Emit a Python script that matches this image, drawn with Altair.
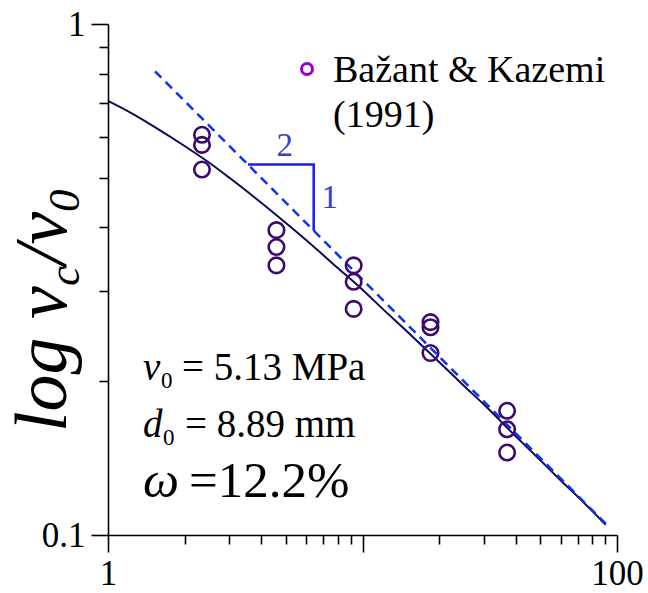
import altair as alt
import pandas as pd

# Bažant & Kazemi (1991): normalised size d/d0 vs normalised strength v_c/v0
test_size = [2.34, 2.34, 2.34, 4.59, 4.59, 4.59, 9.23, 9.23, 9.23,
             18.5, 18.5, 18.5, 37.0, 37.0, 37.0]
test_strength = [0.607, 0.580, 0.519, 0.395, 0.366, 0.337, 0.337, 0.313, 0.277,
                 0.261, 0.255, 0.227, 0.175, 0.161, 0.145]

# size-effect-law fit
fit_size = [1, 1.25, 1.5, 2, 2.5, 3, 4, 5, 6, 8, 10, 12, 15, 20, 25, 30, 40, 50,
            60, 75, 90.3]
fit_strength = [0.707, 0.667, 0.632, 0.577, 0.535, 0.500, 0.447, 0.408, 0.378,
                0.333, 0.302, 0.277, 0.250, 0.218, 0.196, 0.180, 0.156, 0.140,
                0.128, 0.115, 0.1047]

# LEFM asymptote (slope -1/2)
asym_size = [1.53, 90.3]
asym_strength = [0.808, 0.1052]

# slope triangle
tri_size = [3.55, 6.43, 6.43]
tri_strength = [0.531, 0.531, 0.394]

x_ticks = [1, 2, 3, 4, 5, 6, 7, 8, 9, 10, 20, 30, 40, 50, 60, 70, 80, 90, 100]
y_ticks = [0.1, 0.2, 0.3, 0.4, 0.5, 0.6, 0.7, 0.8, 0.9, 1]

LEFT, TOP = 108, 24
W, H = 509, 511
SERIF = "Liberation Serif"

pts = pd.DataFrame({"d": test_size, "v": test_strength})
fit = pd.DataFrame({"d": fit_size, "v": fit_strength})
asym = pd.DataFrame({"d": asym_size, "v": asym_strength})
tri = pd.DataFrame({"d": tri_size, "v": tri_strength, "o": [0, 1, 2]})
one = pd.DataFrame({"k": [0]})

xscale = alt.Scale(type="log", domain=[1, 100], nice=False)
yscale = alt.Scale(type="log", domain=[0.1, 1], nice=False)

x_axis = alt.Axis(
    values=x_ticks, title=None, grid=False, format="~g",
    tickSize={"condition": {"test": "datum.value == 1 || datum.value == 10 || datum.value == 100",
                            "value": 17}, "value": 9},
    labelExpr="datum.value == 1 || datum.value == 100 ? datum.label : ''",
    labelOverlap=False, labelFlush=False, labelBound=False, labelPadding=4,
)
y_axis = alt.Axis(
    values=y_ticks, title=None, grid=False,
    tickSize={"condition": {"test": "datum.value == 1 || abs(datum.value - 0.1) < 1e-9",
                            "value": 17}, "value": 9},
    labelExpr="datum.value == 1 ? '1' : (abs(datum.value - 0.1) < 1e-9 ? '0.1' : '')",
    labelOverlap=False, labelFlush=False, labelBound=False, labelPadding=6,
)

X = alt.X("d:Q", scale=xscale, axis=x_axis)
Y = alt.Y("v:Q", scale=yscale, axis=y_axis)

fit_line = alt.Chart(fit).mark_line(color="#0b0b5c", strokeWidth=2, interpolate="monotone").encode(
    x=X, y=Y)
asym_line = alt.Chart(asym).mark_line(color="#1030f0", strokeWidth=2.5, strokeDash=[9, 6]).encode(
    x=X, y=Y)
tri_line = alt.Chart(tri).mark_line(color="#1a1aff", strokeWidth=2.5).encode(
    x=X, y=Y, order="o:Q")
points = alt.Chart(pts).mark_point(shape="circle", size=240, strokeWidth=2.6,
                                   color="#3c0a6e", filled=False, opacity=1).encode(x=X, y=Y)

slope_lbl = pd.DataFrame({"d": [4.95, 7.43], "v": [0.576, 0.4565], "t": ["2", "1"]})
slope_text = alt.Chart(slope_lbl).mark_text(font=SERIF, fontSize=33, color="#3d3dcc",
                                            align="center", baseline="middle").encode(
    x=X, y=Y, text="t:N")


def label(txt, sx, sy, size, style="normal", angle=0, color="black", align="left",
          baseline="alphabetic"):
    kw = dict(text=txt, font=SERIF, fontSize=size, fontStyle=style, color=color,
              align=align, baseline=baseline)
    if angle:
        kw["angle"] = angle
    return alt.Chart(one).mark_text(**kw).encode(
        x=alt.value(sx - LEFT), y=alt.value(sy - TOP))


texts = [
    # y-axis title: log v_c / v_0
    label("log v", 66, 432, 74, "italic", 270),
    label("c", 79, 286, 45, "italic", 270),
    label("/v", 66, 265, 74, "italic", 270),
    label("0", 79, 212, 45, "italic", 270),
    # parameters
    label("v", 143, 380, 39, "italic"),
    label("0", 161, 388, 23),
    label("= 5.13 MPa", 182, 380, 39),
    label("d", 143, 437, 39, "italic"),
    label("0", 163, 445, 23),
    label("= 8.89 mm", 185, 437, 39),
    label("ω", 143, 497, 51, "italic"),
    label("=12.2%", 189, 497, 51),
    # legend
    label("Bažant & Kazemi", 333, 82, 38),
    label("(1991)", 333, 127, 38),
]

legend_mark = alt.Chart(one).mark_point(shape="circle", size=120, strokeWidth=3,
                                        color="#9400d3", filled=False, opacity=1).encode(
    x=alt.value(307 - LEFT), y=alt.value(69 - TOP))

chart = alt.layer(fit_line, asym_line, tri_line, points, slope_text, legend_mark, *texts).properties(
    width=W, height=H,
    autosize=alt.AutoSizeParams(type="none"),
    padding={"left": LEFT, "top": TOP, "right": 648 - LEFT - W, "bottom": 593 - TOP - H},
    background="white",
).configure_view(stroke=None).configure_axis(
    domainColor="black", domainWidth=1.6, tickColor="black", tickWidth=1.6,
    labelFont=SERIF, labelFontSize=35, labelColor="black",
)

chart.save("out.html", embed_options={"renderer": "svg", "actions": False})
